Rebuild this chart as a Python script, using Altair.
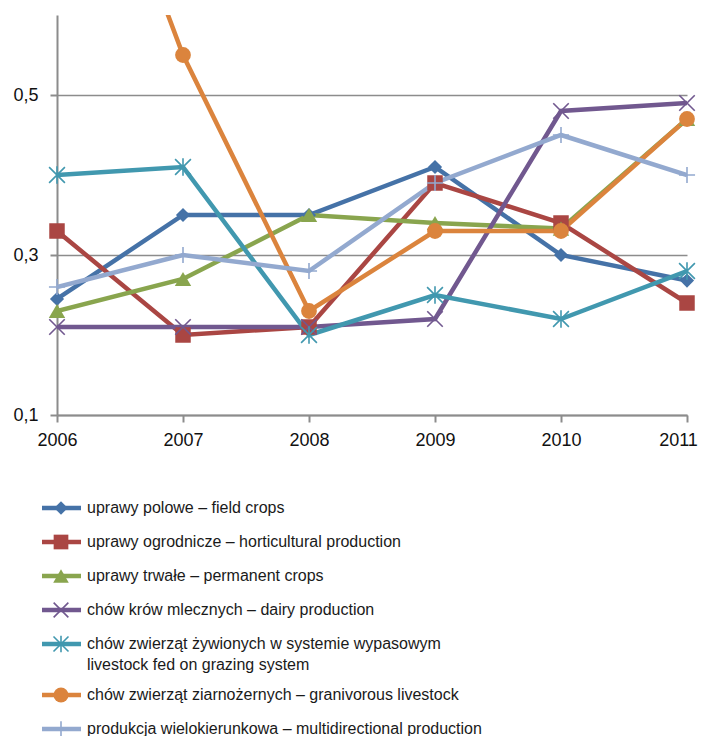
import altair as alt
import pandas as pd

years = [2006, 2007, 2008, 2009, 2010, 2011]
labels = [
    "uprawy polowe – field crops",
    "uprawy ogrodnicze – horticultural production",
    "uprawy trwałe – permanent crops",
    "chów krów mlecznych – dairy production",
    "chów zwierząt żywionych w systemie wypasowym\nlivestock fed on grazing system",
    "chów zwierząt ziarnożernych – granivorous livestock",
    "produkcja wielokierunkowa – multidirectional production",
]
field_crops = [0.245, 0.35, 0.35, 0.41, 0.30, 0.268]
horticultural = [0.33, 0.20, 0.21, 0.39, 0.34, 0.24]
permanent = [0.23, 0.27, 0.35, 0.34, 0.333, 0.47]
dairy = [0.21, 0.21, 0.21, 0.22, 0.48, 0.49]
grazing = [0.40, 0.41, 0.20, 0.25, 0.22, 0.28]
granivorous = [0.97, 0.55, 0.23, 0.33, 0.33, 0.47]
multidirectional = [0.26, 0.30, 0.28, 0.39, 0.45, 0.40]
y_ticks = [0.1, 0.3, 0.5]
y_domain = [0.1, 0.6]

series_values = [field_crops, horticultural, permanent, dairy, grazing,
                 granivorous, multidirectional]

# styles
colors = ["#4572A7", "#AA4643", "#89A54E", "#71588F", "#4198AF", "#DB843D", "#93A9CF"]
X_PATH = "M-1,-1L1,1M-1,1L1,-1"
AST_PATH = "M-1,-1L1,1M-1,1L1,-1M0,-1.1L0,1.1"
PLUS_PATH = "M-1,0L1,0M0,-1L0,1"
shapes = ["diamond", "square", "triangle-up", X_PATH, AST_PATH, "circle", PLUS_PATH]
filled = [True, True, True, False, False, True, False]
sizes = [200, 240, 270, 240, 250, 250, 260]

rows = []
for lab, vals in zip(labels, series_values):
    for yr, v in zip(years, vals):
        rows.append({"series": lab, "year": yr, "value": v})
df = pd.DataFrame(rows)

FONT = "Liberation Sans"
GRAY = "#8c8c8c"

x_enc = alt.X(
    "year:Q",
    scale=alt.Scale(domain=[2006, 2011], nice=False, zero=False),
    axis=alt.Axis(values=years, format="d", title=None, grid=False, labelFlush=False,
                  labelOffset={"condition": {"test": "datum.value == %d" % years[-1], "value": -9},
                               "value": 0},
                  domainColor=GRAY, domainWidth=2, tickColor=GRAY, tickWidth=2,
                  tickSize=7, labelPadding=9, labelFontSize=18, labelFont=FONT,
                  labelColor="#111"),
)
y_enc = alt.Y(
    "value:Q",
    scale=alt.Scale(domain=y_domain, nice=False, zero=False),
    axis=alt.Axis(values=y_ticks, title=None, grid=True, gridColor=GRAY,
                  gridWidth=1.6, labelFlush=False,
                  labelExpr="replace(format(datum.value, '.1f'), '.', ',')",
                  domainColor=GRAY, domainWidth=2, tickColor=GRAY, tickWidth=2,
                  tickSize=7, labelPadding=12, labelFontSize=18, labelFont=FONT,
                  labelColor="#111"),
)

base = alt.Chart(df)
layers = []
for i, lab in enumerate(labels):
    sub = base.transform_filter(alt.datum.series == lab)
    layers.append(
        sub.mark_line(color=colors[i], strokeWidth=4.5, clip=True).encode(x=x_enc, y=y_enc)
    )
for i, lab in enumerate(labels):
    sub = base.transform_filter(alt.datum.series == lab).transform_filter(
        alt.datum.value <= y_domain[1])
    layers.append(
        sub.mark_point(shape=shapes[i], size=sizes[i], filled=filled[i],
                       color=colors[i], opacity=1,
                       strokeWidth=(0 if filled[i] else 1.6))
        .encode(x=x_enc, y=y_enc)
    )
main = alt.layer(*layers).properties(width=630, height=400)

# custom legend (line + marker + label)
leg_rows = []
txt_rows = []
pos = 17
for i, lab in enumerate(labels):
    parts = lab.split("\n")
    leg_rows.append({"series": lab, "ypos": pos})
    for j, p in enumerate(parts):
        txt_rows.append({"text": p, "ypos": pos + 21 * j})
    pos += 34 + 17 * (len(parts) - 1)
leg_df = pd.DataFrame(leg_rows)
txt_df = pd.DataFrame(txt_rows)

LEG_H = 230
ly = alt.Y("ypos:Q", scale=alt.Scale(domain=[0, LEG_H], reverse=True, nice=False, zero=False), axis=None)

leg_layers = [
    alt.Chart(leg_df).mark_rule(strokeWidth=4.5).encode(
        x=alt.value(-15), x2=alt.value(24), y=ly,
        color=alt.Color("series:N", scale=alt.Scale(domain=labels, range=colors), legend=None),
    )
]
for i, lab in enumerate(labels):
    leg_layers.append(
        alt.Chart(leg_df).transform_filter(alt.datum.series == lab)
        .mark_point(shape=shapes[i], size=sizes[i] * 0.9, filled=filled[i],
                    color=colors[i], opacity=1,
                    strokeWidth=(0 if filled[i] else 1.6))
        .encode(x=alt.value(4), y=ly)
    )
leg_layers.append(
    alt.Chart(txt_df).mark_text(align="left", baseline="middle", fontSize=16,
                                font=FONT, color="#1a1a1a")
    .encode(x=alt.value(30), y=ly, text="text:N")
)
legend = alt.layer(*leg_layers).properties(width=600, height=LEG_H)

chart = (
    alt.vconcat(main, legend, spacing=42)
    .properties(padding={"left": 4, "top": 7, "right": 0, "bottom": 0})
    .configure_view(stroke=None)
)

chart.save("out.html", embed_options={"renderer": "svg", "actions": False})
